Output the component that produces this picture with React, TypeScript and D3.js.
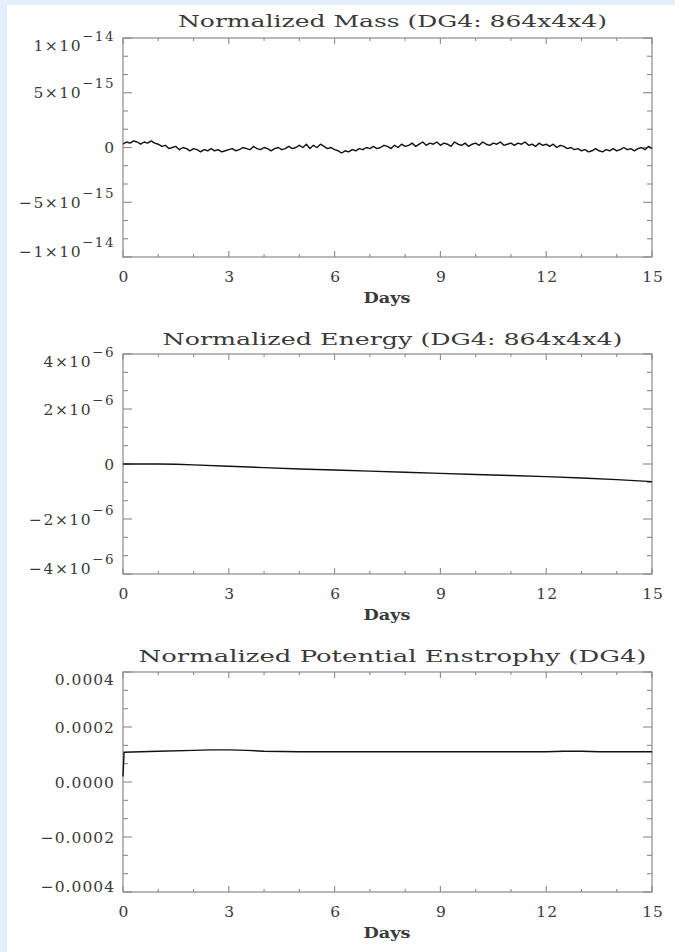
import React from "react";
import * as d3 from "d3";

// ---------- DATA ----------
const dayTicks = [0, 3, 6, 9, 12, 15];

// Normalized mass, in units of 1e-15, sampled every 0.1 day from day 0 to 15
const massStepDays = 0.1;
const massValues = [
  0.3, 0.5, 0.4, 0.6, 0.5, 0.3, 0.5, 0.4, 0.6, 0.4, 0.3,
  0.1, 0.2, -0.1, 0.0, 0.1, -0.2, 0.0, -0.1, -0.3, -0.1,
  -0.2, -0.4, -0.2, -0.3, -0.1, -0.3, -0.2, -0.4, -0.3, -0.2,
  -0.1, -0.3, -0.2, 0.0, -0.1, -0.2, 0.1, -0.1, -0.2, 0.0,
  -0.1, -0.3, -0.1, 0.0, -0.2, -0.1, 0.1, -0.1, 0.0, 0.2,
  0.0, 0.3, -0.1, 0.2, 0.0, 0.3, 0.1, -0.1, 0.0, -0.2,
  -0.3, -0.5, -0.3, -0.4, -0.2, -0.3, -0.1, -0.2, 0.0, -0.1,
  0.1, -0.1, 0.0, 0.2, 0.1, -0.1, 0.2, 0.0, 0.3, 0.1,
  0.2, 0.4, 0.1, 0.3, 0.5, 0.2, 0.4, 0.3, 0.5, 0.2,
  0.4, 0.3, 0.1, 0.5, 0.3, 0.2, 0.4, 0.1, 0.3, 0.4,
  0.2, 0.5, 0.3, 0.2, 0.4, 0.3, 0.5, 0.2, 0.3, 0.4,
  0.2, 0.4, 0.3, 0.5, 0.2, 0.3, 0.1, 0.4, 0.2, 0.3,
  0.1, 0.3, 0.0, 0.2, 0.1, -0.1, 0.0, -0.2, -0.1, -0.3,
  -0.2, -0.4, -0.3, -0.1, -0.3, -0.4, -0.2, -0.3, -0.1, -0.3,
  -0.2, 0.0, -0.2, -0.1, -0.3, -0.1, 0.0, -0.2, 0.1, -0.1,
];
const massUnit = 1e-15;

// Normalized energy, in units of 1e-6
const energyDays = [0, 0.5, 1, 1.5, 2, 3, 4, 5, 6, 7, 8, 9, 10, 11, 12, 13, 14, 15];
const energyValues = [0, 0, 0, -0.01, -0.03, -0.08, -0.13, -0.18, -0.22, -0.26, -0.3, -0.34, -0.38, -0.42, -0.46, -0.51, -0.57, -0.64];
const energyUnit = 1e-6;

// Normalized potential enstrophy, in units of 1e-4
const enstrophyDays = [0, 0.03, 0.5, 1, 2, 2.5, 3, 3.5, 4, 5, 6, 7, 8, 9, 10, 11, 12, 12.5, 13, 13.5, 14, 15];
const enstrophyValues = [0.2, 1.08, 1.1, 1.12, 1.15, 1.17, 1.17, 1.15, 1.12, 1.1, 1.1, 1.1, 1.1, 1.1, 1.1, 1.1, 1.1, 1.12, 1.12, 1.1, 1.1, 1.1];
const enstrophyUnit = 1e-4;

const massTickValues = [1e-14, 5e-15, 0, -5e-15, -1e-14];
const massTickLabels = [["1×10", "−14"], ["5×10", "−15"], ["0", ""], ["−5×10", "−15"], ["−1×10", "−14"]];
const energyTickValues = [4e-6, 2e-6, 0, -2e-6, -4e-6];
const energyTickLabels = [["4×10", "−6"], ["2×10", "−6"], ["0", ""], ["−2×10", "−6"], ["−4×10", "−6"]];
const enstrophyTickValues = [0.0004, 0.0002, 0, -0.0002, -0.0004];
const enstrophyTickLabels = [["0.0004", ""], ["0.0002", ""], ["0.0000", ""], ["−0.0002", ""], ["−0.0004", ""]];

const titles = [
  "Normalized Mass (DG4: 864x4x4)",
  "Normalized Energy (DG4: 864x4x4)",
  "Normalized Potential Enstrophy (DG4)",
];
const xAxisTitle = "Days";

// ---------- LAYOUT ----------
const W = 675;
const H = 952;
const LEFT = 123;
const RIGHT = 652;
const AXIS = "#8a8a8a";
const TEXT = "#3a3a3a";
const FONT = "'DejaVu Serif', serif";

type PanelCfg = {
  title: string;
  titleLen: number;
  titleY: number;
  top: number;
  bottom: number;
  dom: [number, number];
  tickVals: number[];
  tickLabels: string[][];
  days: number[];
  vals: number[];
};

const panels: PanelCfg[] = [
  {
    title: titles[0], titleLen: 429, titleY: 27, top: 38, bottom: 257,
    dom: [-1e-14, 1e-14], tickVals: massTickValues, tickLabels: massTickLabels,
    days: massValues.map((_, i) => i * massStepDays), vals: massValues.map((v) => v * massUnit),
  },
  {
    title: titles[1], titleLen: 460, titleY: 345, top: 354, bottom: 574,
    dom: [-4e-6, 4e-6], tickVals: energyTickValues, tickLabels: energyTickLabels,
    days: energyDays, vals: energyValues.map((v) => v * energyUnit),
  },
  {
    title: titles[2], titleLen: 508, titleY: 662, top: 672, bottom: 892,
    dom: [-0.0004, 0.0004], tickVals: enstrophyTickValues, tickLabels: enstrophyTickLabels,
    days: enstrophyDays, vals: enstrophyValues.map((v) => v * enstrophyUnit),
  },
];

function Panel({ p }: { p: PanelCfg }) {
  const x = d3.scaleLinear().domain([0, 15]).range([LEFT, RIGHT]);
  const y = d3.scaleLinear().domain(p.dom).range([p.bottom, p.top]);
  const majorStep = p.tickVals[0] - p.tickVals[1];
  const minorStep = majorStep / 3;
  const minorY: number[] = [];
  for (let k = 0; k <= 12; k++) {
    minorY.push(p.dom[0] + k * minorStep);
  }
  const minorX = d3.range(0, 16);
  const line = d3
    .line<number>()
    .x((_, i) => x(p.days[i]))
    .y((v) => y(v));
  const path = line(p.vals) || "";
  const labelCenter = (v: number) => Math.min(Math.max(y(v), p.top + 7.5), p.bottom - 6);
  return (
    <g>
      <text x={(LEFT + RIGHT) / 2 + 5} y={p.titleY} textAnchor="middle" fontFamily={FONT} fontSize={17}
        fill={TEXT} textLength={p.titleLen} lengthAdjust="spacingAndGlyphs">{p.title}</text>
      <rect x={LEFT} y={p.top} width={RIGHT - LEFT} height={p.bottom - p.top} fill="none" stroke={AXIS} strokeWidth={1.2} />
      {minorY.map((v, i) => {
        const isMajor = i % 3 === 0;
        const len = isMajor ? 9 : 5;
        const yy = y(v);
        return (
          <g key={"yt" + i}>
            <line x1={LEFT} x2={LEFT + len} y1={yy} y2={yy} stroke={AXIS} strokeWidth={1.1} />
            <line x1={RIGHT} x2={RIGHT - len} y1={yy} y2={yy} stroke={AXIS} strokeWidth={1.1} />
          </g>
        );
      })}
      {minorX.map((d) => {
        const isMajor = d % 3 === 0;
        const len = isMajor ? 6 : 3;
        const xx = x(d);
        return (
          <g key={"xt" + d}>
            <line x1={xx} x2={xx} y1={p.bottom} y2={p.bottom - len} stroke={AXIS} strokeWidth={1.1} />
            <line x1={xx} x2={xx} y1={p.top} y2={p.top + len} stroke={AXIS} strokeWidth={1.1} />
          </g>
        );
      })}
      {p.tickVals.map((v, i) => {
        const [mant, exp] = p.tickLabels[i];
        const cy = labelCenter(v);
        return (
          <text key={"yl" + i} x={115} y={cy + 5.5} textAnchor="end" fontFamily={FONT} fill={TEXT}
            fontSize={exp ? 15.5 : 15.5} letterSpacing={exp ? 1.5 : 1}>
            {mant}
            {exp ? <tspan dy={-10} fontSize={13.5}>{exp}</tspan> : null}
          </text>
        );
      })}
      {dayTicks.map((d) => (
        <text key={"xl" + d} x={x(d) + 1} y={p.bottom + 24.5} textAnchor="middle" fontFamily={FONT}
          fontSize={15.5} fill={TEXT} letterSpacing={1}>{String(d)}</text>
      ))}
      <text x={387} y={p.bottom + 45.5} textAnchor="middle" fontFamily={FONT} fontSize={15}
        fontWeight="bold" fill={TEXT} textLength={47} lengthAdjust="spacingAndGlyphs">{xAxisTitle}</text>
      <path d={path} fill="none" stroke="#111" strokeWidth={1.4} strokeLinejoin="round" />
    </g>
  );
}

export default function App() {
  return (
    <svg width={W} height={H} viewBox={`0 0 ${W} ${H}`}
      style={{ position: "absolute", left: 0, top: 0, display: "block" }}>
      <rect x={0} y={0} width={W} height={H} fill="#e3effa" />
      <rect x={7} y={5} width={W - 7} height={H - 5} fill="#ffffff" />
      {panels.map((p, i) => (
        <Panel key={i} p={p} />
      ))}
    </svg>
  );
}
